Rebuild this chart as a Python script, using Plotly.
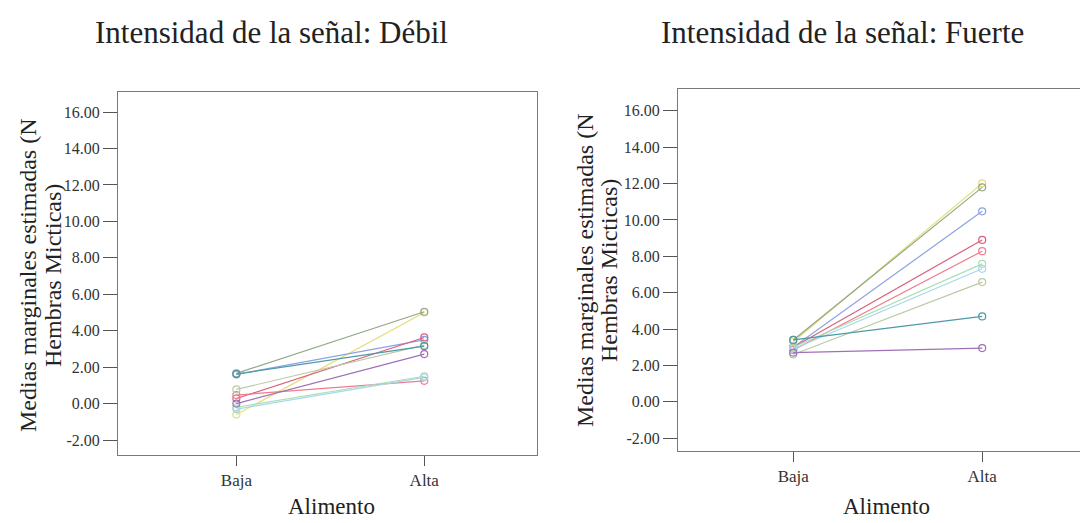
import plotly.graph_objects as go

categories = ["Baja", "Alta"]

series_names = ["Serie 1", "Serie 2", "Serie 3", "Serie 4", "Serie 5",
                "Serie 6", "Serie 7", "Serie 8", "Serie 9", "Serie 10"]

# Intensidad de la señal: Débil  (Baja, Alta)
debil = [
    [-0.6, 5.00],
    [1.66, 5.04],
    [1.60, 3.50],
    [0.28, 3.63],
    [0.47, 1.25],
    [-0.20, 1.50],
    [-0.30, 1.44],
    [0.78, 3.21],
    [1.62, 3.15],
    [0.00, 2.72],
]

# Intensidad de la señal: Fuerte  (Baja, Alta)
fuerte = [
    [3.30, 12.01],
    [3.40, 11.79],
    [3.00, 10.47],
    [3.00, 8.90],
    [2.85, 8.28],
    [3.00, 7.58],
    [2.90, 7.31],
    [2.60, 6.58],
    [3.40, 4.69],
    [2.70, 2.95],
]

colors = ["#e6dc78", "#93a886", "#8ea2e2", "#d9607e", "#f07c8c",
          "#a9e0b4", "#a8d6ee", "#bccaa6", "#4c9aa8", "#a070b6"]

y_tickvals = [-2, 0, 2, 4, 6, 8, 10, 12, 14, 16]
y_ticktext = ["-2.00", "0.00", "2.00", "4.00", "6.00", "8.00",
              "10.00", "12.00", "14.00", "16.00"]

titles = ["Intensidad de la señal: Débil", "Intensidad de la señal: Fuerte"]
x_title = "Alimento"
y_title_lines = ["Medias marginales estimadas (N", "Hembras Micticas)"]

# the page places the figure 8px in from the top-left corner
OFF = 8
W, H = 1088 - OFF, 523 - OFF
FONT = "Liberation Serif, Times New Roman, serif"


def px(x):
    return (x - OFF) / W


def py(y):
    return 1 - (y - OFF) / H


fig = go.Figure()

for panel, data in enumerate([debil, fuerte]):
    xa = "x" if panel == 0 else "x2"
    ya = "y" if panel == 0 else "y2"
    for name, vals, col in zip(series_names, data, colors):
        fig.add_trace(go.Scatter(
            x=categories, y=vals, mode="lines+markers",
            xaxis=xa, yaxis=ya, name=name, showlegend=False,
            line=dict(color=col, width=1.2),
            marker=dict(symbol="circle-open", size=7, color=col,
                        line=dict(width=1.2, color=col)),
        ))

axis_common = dict(showline=True, linecolor="#7a7a7a", linewidth=1,
                   mirror=True, showgrid=False, zeroline=False,
                   ticks="outside", tickcolor="#555555",
                   tickfont=dict(family=FONT, size=16, color="#333333"))

fig.update_layout(
    width=W, height=H,
    margin=dict(l=0, r=0, t=0, b=0),
    paper_bgcolor="white", plot_bgcolor="white",
    showlegend=False,
    xaxis=dict(domain=[px(118), px(537)], type="category",
               range=[-0.63, 1.6], anchor="y", ticklen=10,
               **{**axis_common, "tickfont": dict(family=FONT, size=17, color="#333333")}),
    yaxis=dict(domain=[py(455), py(92)], range=[-2.82, 17.1],
               anchor="x", tickvals=y_tickvals, ticktext=y_ticktext,
               ticklen=14, **axis_common),
    xaxis2=dict(domain=[px(678), 1.0], type="category",
                range=[-0.61, 1.56], anchor="y2", ticklen=10,
                **{**axis_common, "tickfont": dict(family=FONT, size=17, color="#333333")}),
    yaxis2=dict(domain=[py(451), py(89)], range=[-2.71, 17.2],
                anchor="x2", tickvals=y_tickvals, ticktext=y_ticktext,
                ticklen=14, **axis_common),
)

annots = []
for cx, t in zip([271, 842], titles):
    annots.append(dict(text=t, xref="paper", yref="paper",
                       x=px(cx), y=py(33), xanchor="center", yanchor="middle",
                       showarrow=False,
                       font=dict(family=FONT, size=31, color="#222222")))
for cx in [331, 886]:
    annots.append(dict(text=x_title, xref="paper", yref="paper",
                       x=px(cx), y=py(506), xanchor="center", yanchor="middle",
                       showarrow=False,
                       font=dict(family=FONT, size=23, color="#222222")))
for (x1, x2, cy) in [(28, 53, 276), (585, 609, 271)]:
    for lx, line in zip([x1, x2], y_title_lines):
        annots.append(dict(text=line, xref="paper", yref="paper",
                           x=px(lx), y=py(cy), xanchor="center", yanchor="middle",
                           showarrow=False, textangle=-90,
                           font=dict(family=FONT, size=24, color="#222222")))
fig.update_layout(annotations=annots)

fig.write_html("out.html")
